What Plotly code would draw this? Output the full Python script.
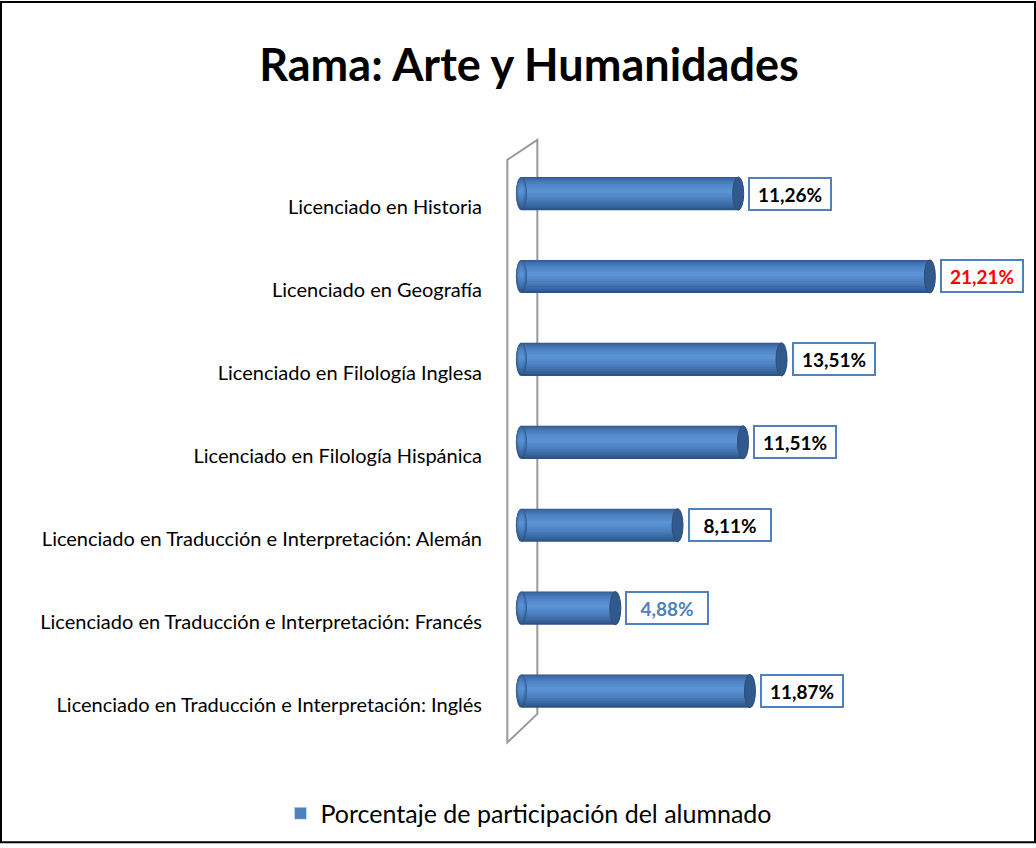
import plotly.graph_objects as go

categories = [
    "Licenciado en Traducción e Interpretación: Inglés",
    "Licenciado en Traducción e Interpretación: Francés",
    "Licenciado en Traducción e Interpretación: Alemán",
    "Licenciado en Filología Hispánica",
    "Licenciado en Filología Inglesa",
    "Licenciado en Geografía",
    "Licenciado en Historia",
]
values = [11.87, 4.88, 8.11, 11.51, 13.51, 21.21, 11.26]
value_labels = ["11,87%", "4,88%", "8,11%", "11,51%", "13,51%", "21,21%", "11,26%"]
label_colors = ["black", "#4F81BD", "black", "black", "black", "#FF0000", "black"]
series_name = "Porcentaje de participación del alumnado"
title_text = "Rama: Arte y Humanidades"

W, H = 1036, 848
ML, MR, MT, MB = 504, 37, 138, 99
XR = [-0.9, 24.8]
YR = [-0.65, 6.67]
pw = W - ML - MR
ph = H - MT - MB
px_per_x = pw / (XR[1] - XR[0])
px_per_y = ph / (YR[1] - YR[0])

FONT = "Lato"
ypos = list(range(len(categories)))
label_drop = 13.5 / px_per_y  # 3D perspective: category labels sit below bar centres

# cylinder shading layers: (bar width, upward shift, colour)
layers = [
    (0.40, 0.000, "#2E5386"),
    (0.37, 0.010, "#366096"),
    (0.33, 0.018, "#3D6BA5"),
    (0.28, 0.024, "#4475B2"),
    (0.23, 0.028, "#4A7EBD"),
    (0.17, 0.030, "#5086C6"),
    (0.11, 0.030, "#558CCD"),
    (0.05, 0.030, "#5A92D3"),
]

fig = go.Figure()
for w, s, c in layers:
    fig.add_trace(go.Bar(
        y=ypos, x=values, orientation="h", width=w, offset=-w / 2 + s,
        marker=dict(color=c, line=dict(width=0)),
        name=series_name, showlegend=False, hoverinfo="skip",
    ))
# legend-only entry
fig.add_trace(go.Bar(y=[None], x=[None], orientation="h", name=series_name,
                     marker=dict(color="#4F81BD"), showlegend=True))

shapes = []
full = layers[0][0]
cap_rx = 5.5 / px_per_x  # half width of end caps in data units
for yi, v in zip(ypos, values):
    for w, s, c in layers:
        rx = cap_rx * (0.35 + 0.65 * w / full)
        shapes.append(dict(type="circle", xref="x", yref="y",
                           x0=-rx, x1=rx, y0=yi + s - w / 2, y1=yi + s + w / 2,
                           fillcolor=c, line=dict(width=0), layer="above"))
    shapes.append(dict(type="circle", xref="x", yref="y",
                       x0=v - cap_rx, x1=v + cap_rx, y0=yi - full / 2, y1=yi + full / 2,
                       fillcolor="#32598C", line=dict(color="#2A4D7A", width=1), layer="above"))

# 3D wall (axis decoration)
bx = 16 / px_per_x
fx = -14 / px_per_x
shapes.append(dict(type="path", xref="x", yref="y", layer="below",
                   path=f"M {fx},{YR[0]+0.03} L {fx},{6.407} L {bx},{6.647} L {bx},{-0.275} Z",
                   line=dict(color="#999999", width=2), fillcolor="rgba(0,0,0,0)"))

def pxx(p):
    return (p - ML) / pw
def pxy(p):
    return (H - MB - p) / ph

# outer border
shapes.append(dict(type="rect", xref="paper", yref="paper",
                   x0=pxx(1), x1=pxx(W - 1), y0=pxy(H - 1), y1=pxy(1),
                   line=dict(color="black", width=2), fillcolor="rgba(0,0,0,0)"))

annotations = []
for yi, v, t, c in zip(ypos, values, value_labels, label_colors):
    annotations.append(dict(x=v, y=yi, xref="x", yref="y", text=f"<b>{t}</b>",
                            showarrow=False, xanchor="left", yanchor="middle", xshift=10,
                            font=dict(family=FONT, size=19, color=c),
                            bgcolor="white", bordercolor="#4F81BD", borderwidth=2,
                            borderpad=1, width=78, height=28))

fig.update_layout(
    width=W, height=H,
    margin=dict(l=ML, r=MR, t=MT, b=MB),
    paper_bgcolor="white", plot_bgcolor="white",
    barmode="overlay",
    title=dict(text=f"<b>{title_text}</b>", x=529 / W, xanchor="center",
               y=1 - 65 / H, yanchor="middle",
               font=dict(family=FONT, size=45, color="black")),
    xaxis=dict(range=XR, showgrid=False, zeroline=False, showticklabels=False,
               showline=False, ticks=""),
    yaxis=dict(range=YR, tickmode="array",
               tickvals=[y - label_drop for y in ypos], ticktext=categories,
               showgrid=False, zeroline=False, showline=False,
               ticks="outside", ticklen=17, tickcolor="rgba(0,0,0,0)",
               tickfont=dict(family=FONT, size=20, color="black")),
    shapes=shapes,
    annotations=annotations,
    showlegend=True,
    legend=dict(orientation="h", x=pxx(529), xanchor="center", y=pxy(818), yanchor="middle",
                font=dict(family=FONT, size=25, color="black")),
)

fig.write_html("out.html", config={"displayModeBar": False},
               post_script="document.body.style.margin='0px';")
